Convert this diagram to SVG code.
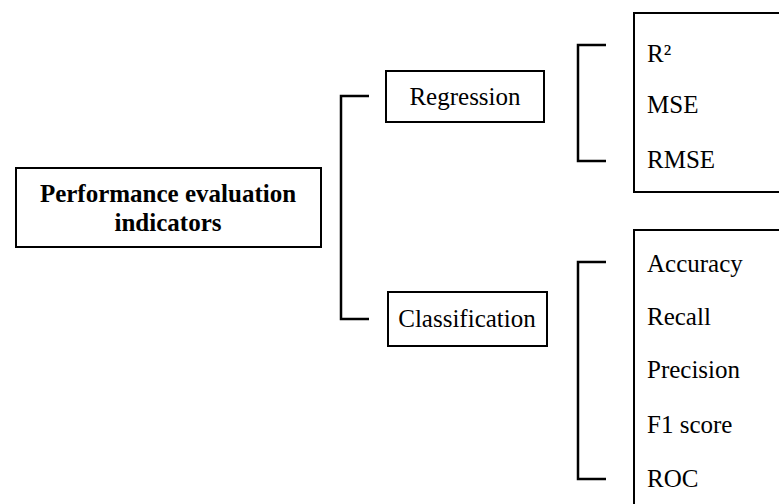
<svg xmlns="http://www.w3.org/2000/svg" width="779" height="504" viewBox="0 0 779 504">
<style>
.box{fill:#fff;stroke:#000;stroke-width:2}
.ln{fill:none;stroke:#000;stroke-width:2.5}
text{font-family:"Liberation Serif","Times New Roman",serif;font-size:25px;fill:#000}
.b{font-weight:bold}
.c{text-anchor:middle}
</style>
<rect width="779" height="504" fill="#fff"/>
<g id="connectors">
<path class="ln" d="M369,96 H341 V319 H369"/>
<path class="ln" d="M606,45 H578 V161 H606"/>
<path class="ln" d="M606,262 H578 V479 H606"/>
</g>
<g id="root">
<rect class="box" x="16" y="168" width="305" height="79"/>
<text class="b c" x="168" y="202">Performance evaluation</text>
<text class="b c" x="168" y="231">indicators</text>
</g>
<g id="regression">
<rect class="box" x="386" y="71" width="158" height="51"/>
<text class="c" x="465" y="105">Regression</text>
</g>
<g id="classification">
<rect class="box" x="388" y="292" width="159" height="54"/>
<text class="c" x="467" y="327">Classification</text>
</g>
<g id="regression-metrics">
<rect class="box" x="634" y="13" width="170" height="179"/>
<text x="647" y="62">R²</text>
<text x="647" y="113">MSE</text>
<text x="647" y="168">RMSE</text>
</g>
<g id="classification-metrics">
<rect class="box" x="634" y="230" width="170" height="290"/>
<text x="647" y="272">Accuracy</text>
<text x="647" y="325">Recall</text>
<text x="647" y="378">Precision</text>
<text x="647" y="433">F1 score</text>
<text x="647" y="487">ROC</text>
</g>
</svg>
